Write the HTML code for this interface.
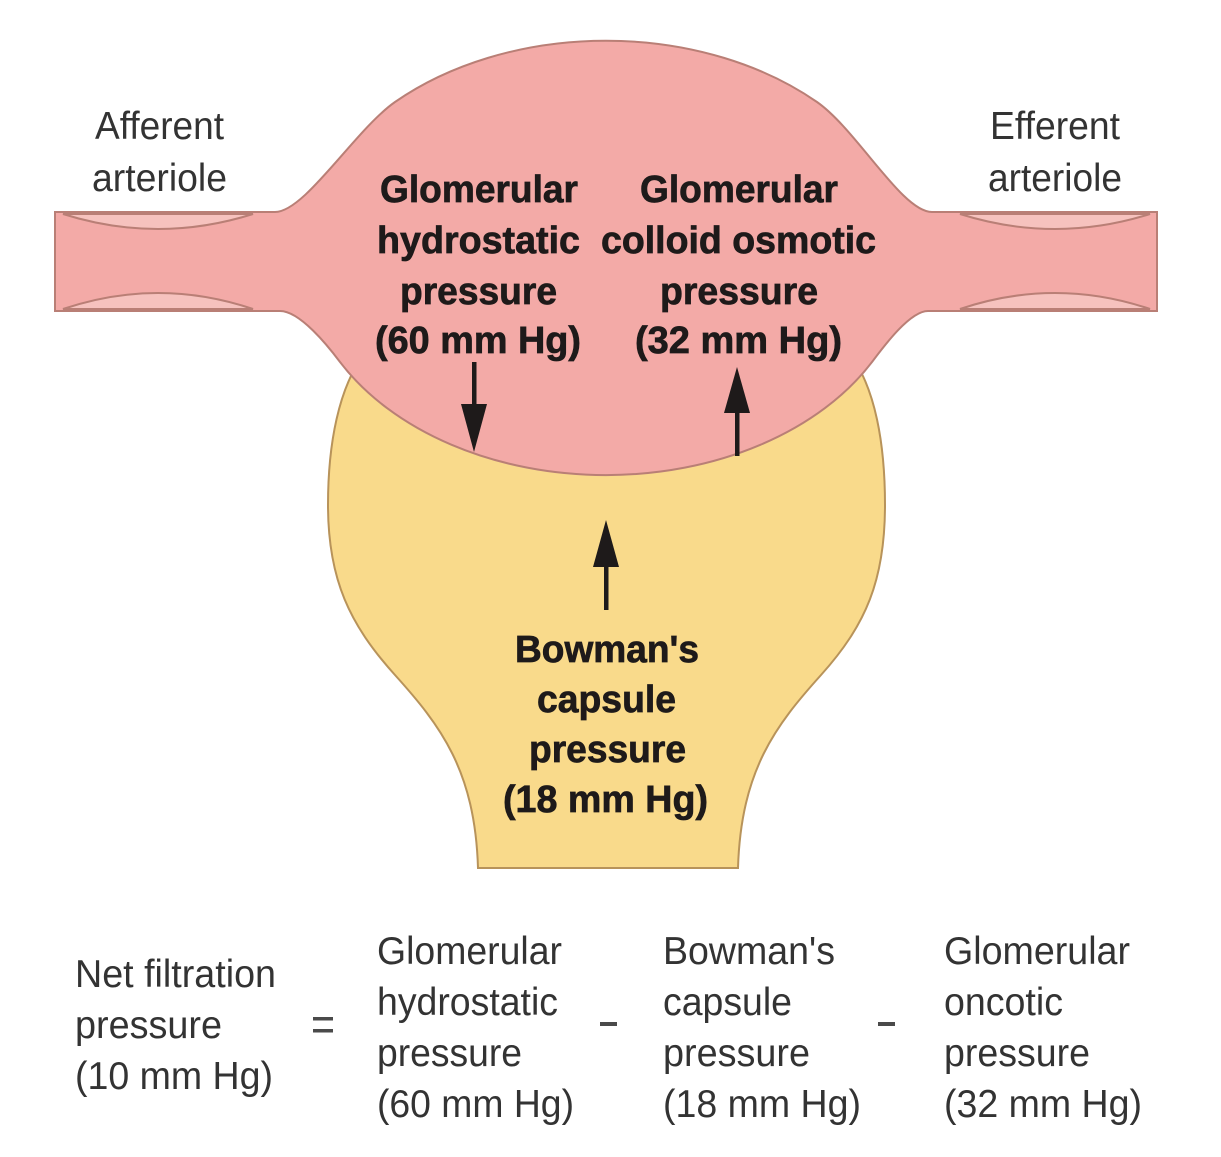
<!DOCTYPE html>
<html>
<head>
<meta charset="utf-8">
<style>
  html,body{margin:0;padding:0;background:#ffffff;}
  svg{display:block;}
  .reg{font-family:"Liberation Sans",Arial,sans-serif;font-size:39px;fill:#333333;}
  .bold{font-family:"Liberation Sans",Arial,sans-serif;font-size:38px;font-weight:bold;fill:#1e1a1a;stroke:#1e1a1a;stroke-width:0.7px;}
</style>
</head>
<body>
<svg width="1221" height="1157" viewBox="0 0 1221 1157" xmlns="http://www.w3.org/2000/svg">
  <rect x="0" y="0" width="1221" height="1157" fill="#ffffff"/>

  <!-- Bowman's capsule (yellow) -->
  <path d="M360,360 C340,390 328,440 328,505 C328,580 350,625 395,675 C440,725 475,770 478,868 L738,868 C741,770 776,725 821,675 C866,625 885,580 885,505 C885,440 874,390 854,360 Z"
        fill="#f9da8b" stroke="#b8935a" stroke-width="2"/>

  <!-- Glomerulus + arterioles (pink) -->
  <path d="M55,212 L275,212 C305,212 355,130 395,102 A303,217 0 0 1 817,102 C857,130 902,212 932,212 L1157,212 L1157,311 L928,311 C910,311 884,346 872,362 A303,217 0 0 1 340,362 C328,346 300,311 280,311 L55,311 Z"
        fill="#f3aaa7" stroke="#b97f76" stroke-width="2"/>

  <!-- crescents afferent -->
  <path d="M63,214 Q158,244 253,214 Z" fill="#f6c2be" stroke="#b97f76" stroke-width="2"/>
  <path d="M63,309 Q158,277 253,309 Z" fill="#f6c2be" stroke="#b97f76" stroke-width="2"/>
  <!-- crescents efferent -->
  <path d="M960,214 Q1055,244 1150,214 Z" fill="#f6c2be" stroke="#b97f76" stroke-width="2"/>
  <path d="M960,309 Q1055,277 1150,309 Z" fill="#f6c2be" stroke="#b97f76" stroke-width="2"/>

  <!-- arrows -->
  <g fill="#1e1a1a">
    <rect x="472" y="362" width="4.5" height="50"/>
    <polygon points="461,404 487,404 474,452"/>
    <rect x="735" y="408" width="4.5" height="48"/>
    <polygon points="724,413 750,413 737,367"/>
    <rect x="604" y="562" width="4.5" height="48"/>
    <polygon points="593,567 619,567 606,520"/>
  </g>

  <!-- Arteriole labels -->
  <text class="reg" x="95" y="139" textLength="129" lengthAdjust="spacingAndGlyphs">Afferent</text>
  <text class="reg" x="92" y="191" textLength="135" lengthAdjust="spacingAndGlyphs">arteriole</text>
  <text class="reg" x="990" y="139" textLength="130" lengthAdjust="spacingAndGlyphs">Efferent</text>
  <text class="reg" x="988" y="191" textLength="134" lengthAdjust="spacingAndGlyphs">arteriole</text>

  <!-- Glomerular hydrostatic -->
  <text class="bold" x="380" y="202" textLength="198" lengthAdjust="spacingAndGlyphs">Glomerular</text>
  <text class="bold" x="377" y="253" textLength="203" lengthAdjust="spacingAndGlyphs">hydrostatic</text>
  <text class="bold" x="400" y="304" textLength="157" lengthAdjust="spacingAndGlyphs">pressure</text>
  <text class="bold" x="375" y="353" textLength="206" lengthAdjust="spacingAndGlyphs">(60 mm Hg)</text>

  <!-- Glomerular colloid osmotic -->
  <text class="bold" x="640" y="202" textLength="198" lengthAdjust="spacingAndGlyphs">Glomerular</text>
  <text class="bold" x="601" y="253" textLength="275" lengthAdjust="spacingAndGlyphs">colloid osmotic</text>
  <text class="bold" x="660" y="304" textLength="158" lengthAdjust="spacingAndGlyphs">pressure</text>
  <text class="bold" x="635" y="353" textLength="207" lengthAdjust="spacingAndGlyphs">(32 mm Hg)</text>

  <!-- Bowman's capsule pressure -->
  <text class="bold" x="515" y="662" textLength="184" lengthAdjust="spacingAndGlyphs">Bowman's</text>
  <text class="bold" x="537" y="712" textLength="139" lengthAdjust="spacingAndGlyphs">capsule</text>
  <text class="bold" x="529" y="762" textLength="157" lengthAdjust="spacingAndGlyphs">pressure</text>
  <text class="bold" x="503" y="812" textLength="205" lengthAdjust="spacingAndGlyphs">(18 mm Hg)</text>

  <!-- Equation -->
  <text class="reg" x="75" y="987" textLength="201" lengthAdjust="spacingAndGlyphs">Net filtration</text>
  <text class="reg" x="75" y="1038" textLength="147" lengthAdjust="spacingAndGlyphs">pressure</text>
  <text class="reg" x="75" y="1089" textLength="198" lengthAdjust="spacingAndGlyphs">(10 mm Hg)</text>

  <g fill="#4a4a4a">
    <rect x="313" y="1017" width="20" height="3.5"/>
    <rect x="313" y="1029" width="20" height="3.5"/>
    <rect x="600" y="1022" width="17" height="4"/>
    <rect x="878" y="1022" width="17" height="4"/>
  </g>

  <text class="reg" x="377" y="964" textLength="185" lengthAdjust="spacingAndGlyphs">Glomerular</text>
  <text class="reg" x="377" y="1015" textLength="181" lengthAdjust="spacingAndGlyphs">hydrostatic</text>
  <text class="reg" x="377" y="1066" textLength="145" lengthAdjust="spacingAndGlyphs">pressure</text>
  <text class="reg" x="377" y="1117" textLength="197" lengthAdjust="spacingAndGlyphs">(60 mm Hg)</text>

  <text class="reg" x="663" y="964" textLength="172" lengthAdjust="spacingAndGlyphs">Bowman's</text>
  <text class="reg" x="663" y="1015" textLength="129" lengthAdjust="spacingAndGlyphs">capsule</text>
  <text class="reg" x="663" y="1066" textLength="147" lengthAdjust="spacingAndGlyphs">pressure</text>
  <text class="reg" x="663" y="1117" textLength="198" lengthAdjust="spacingAndGlyphs">(18 mm Hg)</text>

  <text class="reg" x="944" y="964" textLength="186" lengthAdjust="spacingAndGlyphs">Glomerular</text>
  <text class="reg" x="944" y="1015" textLength="119" lengthAdjust="spacingAndGlyphs">oncotic</text>
  <text class="reg" x="944" y="1066" textLength="146" lengthAdjust="spacingAndGlyphs">pressure</text>
  <text class="reg" x="944" y="1117" textLength="198" lengthAdjust="spacingAndGlyphs">(32 mm Hg)</text>
</svg>
</body>
</html>
